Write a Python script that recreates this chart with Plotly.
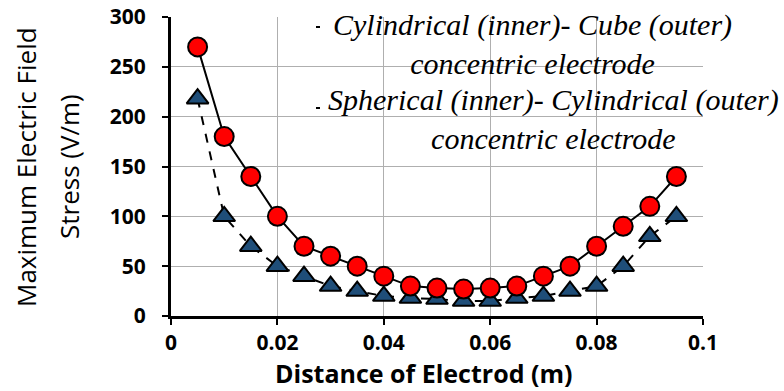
import plotly.graph_objects as go

x_vals = [0.005, 0.01, 0.015, 0.02, 0.025, 0.03, 0.035, 0.04, 0.045, 0.05,
          0.055, 0.06, 0.065, 0.07, 0.075, 0.08, 0.085, 0.09, 0.095]
cyl_cube = [270, 180, 140, 100, 70, 60, 50, 40, 30, 28,
            27, 28, 30, 40, 50, 70, 90, 110, 140]
sph_cyl = [218, 100, 70, 50, 40, 30, 25, 20, 18, 17,
           15, 15, 18, 20, 25, 30, 50, 80, 100]
name1 = "Cylindrical (inner)- Cube (outer)<br>concentric electrode"
name2 = "Spherical (inner)- Cylindrical (outer)<br>concentric electrode"
x_ticks = [0, 0.02, 0.04, 0.06, 0.08, 0.1]
x_tick_text = ["0", "0.02", "0.04", "0.06", "0.08", "0.1"]
y_ticks = [0, 50, 100, 150, 200, 250, 300]
x_title = "Distance of Electrod (m)"
y_title_lines = ["Maximum Electric Field", "Stress (V/m)"]

fig = go.Figure()
fig.add_trace(go.Scatter(
    x=x_vals, y=sph_cyl, mode="lines+markers", name=name2,
    line=dict(color="black", width=2, dash="dash"),
    marker=dict(symbol="triangle-up", size=19, color="#1F4E79",
                line=dict(color="black", width=2))))
fig.add_trace(go.Scatter(
    x=x_vals, y=cyl_cube, mode="lines+markers", name=name1,
    line=dict(color="black", width=2),
    marker=dict(symbol="circle", size=19, color="#FF0000",
                line=dict(color="black", width=2))))

AL, AR, AT, AB = 171, 703, 17, 316   # plot-area edges on screen
W, H = 784, 391
L, T = AL, AT
R = W - AR
B = H - AB
pw = AR - AL
ph = AB - AT


def px(xp):
    return (xp - AL) / pw


def py(yp):
    return (AB - yp) / ph


fig.add_shape(type="rect", xref="paper", yref="paper",
              x0=px(317), x1=px(800), y0=py(151), y1=py(0),
              fillcolor="white", line=dict(width=0), layer="between")
fig.add_shape(type="line", xref="paper", yref="paper",
              x0=px(316), x1=px(320), y0=py(27), y1=py(27),
              line=dict(color="black", width=2))
fig.add_shape(type="line", xref="paper", yref="paper",
              x0=px(316), x1=px(320), y0=py(108), y1=py(108),
              line=dict(color="black", width=2))

legend_font = dict(family="Liberation Serif", size=30, color="black")
fig.add_annotation(xref="paper", yref="paper", x=px(532), y=py(43.5),
                   text="<i>" + name1 + "</i>", showarrow=False,
                   align="center", font=legend_font,
                   xanchor="center", yanchor="middle")
fig.add_annotation(xref="paper", yref="paper", x=px(553), y=py(119),
                   text="<i>" + name2 + "</i>", showarrow=False,
                   align="center", font=legend_font,
                   xanchor="center", yanchor="middle")

# axis titles
fig.add_annotation(xref="paper", yref="paper", x=px(423), y=py(373),
                   text="<b>" + x_title + "</b>", showarrow=False,
                   font=dict(family="Open Sans", size=25, color="black"),
                   xanchor="center", yanchor="middle")
for cx, line in zip([26, 69], y_title_lines):
    fig.add_annotation(xref="paper", yref="paper", x=px(cx), y=py(167),
                       text=line, showarrow=False, textangle=-90,
                       font=dict(family="Open Sans", size=26, color="black"),
                       xanchor="center", yanchor="middle")

tick_font = dict(family="Open Sans", size=21, color="black", weight="bold")
fig.update_layout(
    width=W, height=H,
    margin=dict(l=L, r=R, t=T, b=B),
    paper_bgcolor="white", plot_bgcolor="white",
    showlegend=False,
    font=dict(family="Open Sans", color="black"),
)
fig.update_xaxes(
    range=[0, 0.1], tickvals=x_ticks, ticktext=x_tick_text,
    showgrid=True, gridcolor="#AFAFAF", gridwidth=1,
    showline=True, linecolor="black", linewidth=3,
    ticks="outside", ticklen=6, tickwidth=2, tickcolor="black",
    tickfont=tick_font, zeroline=False, automargin=False,
    ticklabeloverflow="allow",
)
fig.update_yaxes(
    range=[0, 300], tickvals=y_ticks,
    showgrid=True, gridcolor="#AFAFAF", gridwidth=1,
    showline=True, linecolor="black", linewidth=3,
    ticks="outside", ticklen=6, tickwidth=2, tickcolor="black",
    tickfont=tick_font, zeroline=False, ticklabelstandoff=12,
    automargin=False, ticklabeloverflow="allow",
)

fig.write_html("out.html",
               config={"displayModeBar": False},
               post_script="document.body.style.margin='0px';")
